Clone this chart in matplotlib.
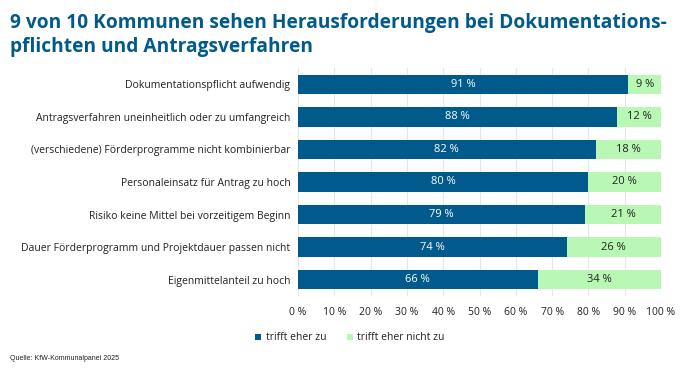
import numpy as np
import matplotlib.pyplot as plt

categories = ["Dokumentationspflicht aufwendig",
              "Antragsverfahren uneinheitlich oder zu umfangreich",
              "(verschiedene) Förderprogramme nicht kombinierbar",
              "Personaleinsatz für Antrag zu hoch",
              "Risiko keine Mittel bei vorzeitigem Beginn",
              "Dauer Förderprogramm und Projektdauer passen nicht",
              "Eigenmittelanteil zu hoch"]
trifft_zu = [91, 88, 82, 80, 79, 74, 66]
trifft_nicht_zu = [9, 12, 18, 20, 21, 26, 34]
series_names = ["trifft eher zu", "trifft eher nicht zu"]
ticks = list(range(0, 101, 10))

blue = "#005a8c"
green = "#b8f7b4"
text_col = "#222222"

plt.rcParams['font.family'] = ['Open Sans', 'DejaVu Sans']

fig = plt.figure(figsize=(6.96, 3.92), dpi=100)
ax = fig.add_axes([298/696, 1-296/392, (661-298)/696, (296-68)/392])

y = np.arange(len(categories))
b1 = ax.barh(y, trifft_zu, height=0.6, color=blue, label=series_names[0], zorder=3)
b2 = ax.barh(y, trifft_nicht_zu, left=trifft_zu, height=0.6, color=green,
             label=series_names[1], zorder=3)

for i in range(len(categories)):
    ax.text(trifft_zu[i]/2, y[i], f"{trifft_zu[i]} %", ha='center', va='center',
            color='white', fontsize=8, zorder=4)
    ax.text(trifft_zu[i] + trifft_nicht_zu[i]/2, y[i], f"{trifft_nicht_zu[i]} %",
            ha='center', va='center', color=text_col, fontsize=8, zorder=4)

ax.set_xlim(0, 100)
ax.set_ylim(len(categories) - 0.5, -0.5)
ax.set_yticks(y)
ax.set_yticklabels(categories, fontsize=7.5, color=text_col)
ax.set_xticks(ticks)
ax.set_xticklabels([f"{t} %" for t in ticks], fontsize=7.5, color=text_col)
ax.tick_params(length=0, pad=8)
ax.tick_params(axis='y', pad=5.5)
ax.grid(axis='x', color='#e6e6e6', linewidth=0.8, zorder=0)
for s in ax.spines.values():
    s.set_visible(False)

fig.legend(handles=[b1, b2], loc='center', bbox_to_anchor=(350/696, 1-338/392),
           ncol=2, frameon=False, fontsize=7.5, handlelength=0.6, handleheight=0.6,
           columnspacing=2.0, handletextpad=0.4, labelcolor=text_col)

fig.text(10/696, 1-28/392, "9 von 10 Kommunen sehen Herausforderungen bei Dokumentations-",
         fontsize=13.8, fontweight='bold', color=blue, va='baseline')
fig.text(10/696, 1-52/392, "pflichten und Antragsverfahren",
         fontsize=13.8, fontweight='bold', color=blue, va='baseline')
fig.text(10/696, 1-358/392, "Quelle: KfW-Kommunalpanel 2025", fontsize=5,
         family=['Liberation Sans', 'DejaVu Sans'], color=text_col, va='center')

fig.savefig("out.png", dpi=100)
